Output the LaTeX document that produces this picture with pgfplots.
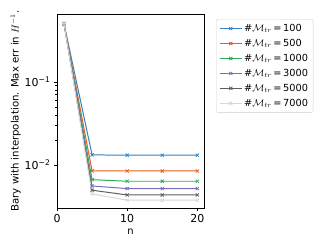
\documentclass[border=0pt]{standalone}
\usepackage{fontspec}
\setmainfont{DejaVu Sans}
\usepackage{pgfplots}
\pgfplotsset{compat=1.18}
\definecolor{c1}{RGB}{50,130,195}
\definecolor{c2}{RGB}{235,90,30}
\definecolor{c3}{RGB}{50,170,90}
\definecolor{c4}{RGB}{120,110,190}
\definecolor{c5}{RGB}{95,95,95}
\definecolor{c6}{RGB}{215,215,215}
\newcommand{\lab}[1]{\#$\mathcal{M}_{tr}$\,=\,#1}
\begin{document}
\begin{tikzpicture}
\path (0,0) rectangle (332bp,249bp);
\begin{axis}[
  at={(57bp,41bp)}, anchor=south west,
  scale only axis, width=147bp, height=194bp,
  ymode=log,
  xmin=0, xmax=20.95, ymin=0.00303, ymax=0.655,
  xtick={0,10,20},
  ytick={0.01,0.1},
  yticklabels={10\textsuperscript{−2},10\textsuperscript{−1}},
  tick align=outside,
  major tick length=3bp, minor tick length=1.8bp,
  tick style={black, line width=0.5pt},
  xtick pos=bottom, ytick pos=left,
  /pgf/number format/assume math mode=true,
  ticklabel style={font=\fontsize{11}{13}\selectfont},
  axis line style={line width=0.6pt},
  xlabel={n},
  ylabel={Bary with interpolation. Max err in $H^{-1}$.},
  xlabel style={font=\fontsize{10}{12}\selectfont, at={(axis description cs:0.5,-0.122)}, anchor=center},
  ylabel style={font=\fontsize{10.2}{12}\selectfont, at={(axis description cs:-0.281,0.5)}, anchor=center},
  every axis plot/.append style={line width=1pt, mark=x, mark size=2.2bp, mark options={solid, line width=0.8pt}},
  legend cell align=left,
  legend style={at={(1.082,0.974)}, anchor=north west, font=\fontsize{9.8}{11}\selectfont,
    draw=black!18, rounded corners=2bp, row sep=2.2bp, inner xsep=3bp, inner ysep=3bp},
  legend image code/.code={\draw[mark repeat=2,mark phase=2,#1] plot coordinates {(0bp,0bp) (11bp,0bp) (22bp,0bp)};},
]
\addplot[c1] coordinates {(1,0.50) (5,0.0132) (10,0.0131) (15,0.0131) (20,0.0131)};
\addlegendentry{\lab{100}}
\addplot[c2] coordinates {(1,0.50) (5,0.00847) (10,0.00845) (15,0.00845) (20,0.00845)};
\addlegendentry{\lab{500}}
\addplot[c3] coordinates {(1,0.50) (5,0.00665) (10,0.00636) (15,0.00636) (20,0.00636)};
\addlegendentry{\lab{1000}}
\addplot[c4] coordinates {(1,0.50) (5,0.00558) (10,0.00519) (15,0.00519) (20,0.00519)};
\addlegendentry{\lab{3000}}
\addplot[c5] coordinates {(1,0.50) (5,0.00496) (10,0.00435) (15,0.00435) (20,0.00435)};
\addlegendentry{\lab{5000}}
\addplot[c6] coordinates {(1,0.50) (5,0.00448) (10,0.00376) (15,0.00376) (20,0.00376)};
\addlegendentry{\lab{7000}}
\end{axis}
\end{tikzpicture}
\end{document}
